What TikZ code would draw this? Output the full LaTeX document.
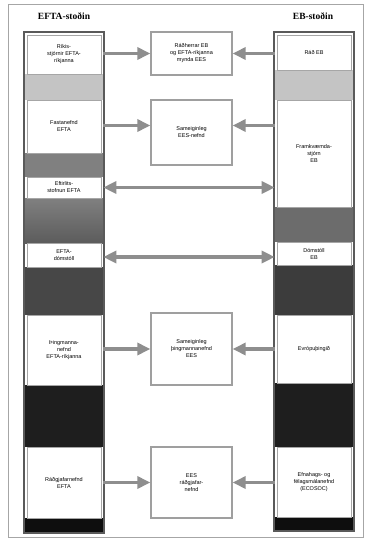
\documentclass[tikz,border=0pt]{standalone}
\usepackage{fontspec}
\setmainfont{Liberation Sans}
\newfontfamily\headfont{Liberation Serif}
\usetikzlibrary{arrows.meta}
\definecolor{bandA}{HTML}{C4C4C4}
\definecolor{bandB}{HTML}{808080}
\definecolor{bandC}{HTML}{6C6C6C}
\definecolor{bandD}{HTML}{474747}
\definecolor{bandE}{HTML}{1E1E1E}
\definecolor{bandF}{HTML}{0E0E0E}
\definecolor{arrgray}{HTML}{8E8E8E}
\definecolor{colline}{HTML}{5A5A5A}
\tikzset{
  pbox/.style={draw=gray!70, line width=0.6pt, fill=white, inner sep=1pt,
    minimum width=74pt, align=center, font=\fontsize{5.5}{7}\selectfont},
  cbox/.style={draw=gray!75, line width=1.3pt, fill=white, inner sep=1pt,
    minimum width=81pt, align=center, font=\fontsize{5.5}{7}\selectfont},
  colframe/.style={draw=colline, line width=2.4pt},
  arr/.style={draw=arrgray, line width=3.2pt, -{Triangle[length=13pt,width=12pt]}},
  darr/.style={draw=arrgray, line width=3.2pt, {Triangle[length=13pt,width=12pt]}-{Triangle[length=13pt,width=12pt]}},
  head/.style={font=\headfont\bfseries\fontsize{9.5}{10}\selectfont}
}
\begin{document}
\begin{tikzpicture}[x=1pt,y=-1pt]
\useasboundingbox (0,0) rectangle (364,540);
\fill[white] (0,0) rectangle (364,540);
\draw[gray!70, line width=1pt] (8,5) rectangle (363,537);

% headers
\node[head] (hL) at (64,16) {EFTA-stoðin};
\node[head] (hR) at (313,16) {EB-stoðin};

% left column bands
\fill[bandA] (24,74) rectangle (104,100);
\fill[bandB] (24,153) rectangle (104,177);
\shade[top color=bandB, bottom color=bandC!85!black] (24,198) rectangle (104,243);
\fill[bandD] (24,267) rectangle (104,315);
\fill[bandE] (24,385) rectangle (104,447);
\fill[bandF] (24,518) rectangle (104,533);
% right column bands
\fill[bandA] (274,70) rectangle (354,100);
\fill[bandC] (274,207) rectangle (354,242);
\fill[bandD!85!black] (274,265) rectangle (354,315);
\fill[bandE] (274,383) rectangle (354,447);
\fill[bandF] (274,517) rectangle (354,531);

% left boxes
\node[pbox, minimum height=39pt] (L1) at (64,54.5) {Ríkis-\\stjórnir EFTA-\\ríkjanna};
\node[pbox, minimum height=53pt] (L2) at (64,126.5) {Fastanefnd\\EFTA};
\node[pbox, minimum height=21pt] (L3) at (64,187.5) {Eftirlits-\\stofnun EFTA};
\node[pbox, minimum height=24pt] (L4) at (64,255) {EFTA-\\dómstóll};
\node[pbox, minimum height=70pt] (L5) at (64,350) {Þingmanna-\\nefnd\\EFTA-ríkjanna};
\node[pbox, minimum height=71pt] (L6) at (64,482.5) {Ráðgjafarnefnd\\EFTA};

% right boxes
\node[pbox, minimum height=35pt] (R1) at (314,52.5) {Ráð EB};
\node[pbox, minimum height=107pt] (R2) at (314,153.5) {Framkvæmda-\\stjórn\\EB};
\node[pbox, minimum height=23pt] (R4) at (314,253.5) {Dómstóll\\EB};
\node[pbox, minimum height=68pt] (R5) at (314,349) {Evrópuþingið};
\node[pbox, minimum height=70pt] (R6) at (314,482) {Efnahags- og\\félagsmálanefnd\\(ECOSOC)};

% column frames
\draw[colframe] (24,32) rectangle (104,533);
\draw[colframe] (274,32) rectangle (354,531);

% centre boxes
\node[cbox, minimum height=43pt] (C1) at (191.5,53.5) {Ráðherrar EB\\og EFTA-ríkjanna\\mynda EES};
\node[cbox, minimum height=65pt] (C2) at (191.5,132.5) {Sameiginleg\\EES-nefnd};
\node[cbox, minimum height=72pt] (C3) at (191.5,349) {Sameiginleg\\þingmannanefnd\\EES};
\node[cbox, minimum height=71pt] (C4) at (191.5,482.5) {EES\\ráðgjafar-\\nefnd};

% arrows
\draw[arr] (L1.east |- C1.west) ++(2,0) -- (C1.west);
\draw[arr] (R1.west |- C1.east) ++(-2,0) -- (C1.east);
\draw[arr] (L2.east) ++(2,-1) -- ([yshift=1pt]L2.east -| C2.west);
\draw[arr] (R2.west |- L2.east) ++(-2,-1) -- ([yshift=1pt]L2.east -| C2.east);
\draw[darr] ([xshift=2pt]L3.east) -- ([xshift=-2pt]L3.east -| R2.west);
\draw[darr] ([xshift=2pt,yshift=-2pt]L4.east) -- ([xshift=-2pt,yshift=-2pt]L4.east -| R4.west);
\draw[arr] (L5.east |- C3.west) ++(2,0) -- (C3.west);
\draw[arr] (R5.west |- C3.east) ++(-2,0) -- (C3.east);
\draw[arr] (L6.east |- C4.west) ++(2,0) -- (C4.west);
\draw[arr] (R6.west |- C4.east) ++(-2,0) -- (C4.east);
\end{tikzpicture}
\end{document}
